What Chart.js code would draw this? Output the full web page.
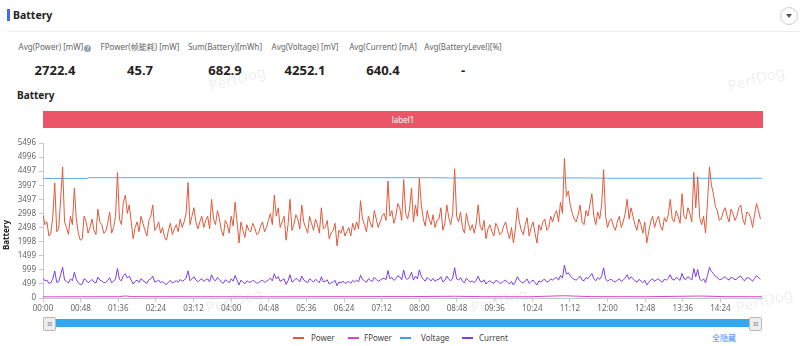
<!DOCTYPE html>
<html>
<head>
<meta charset="utf-8">
<script src="https://cdn.jsdelivr.net/npm/chart.js@4.4.1/dist/chart.umd.min.js"></script>
<style>
  html, body { margin: 0; padding: 0; background: #fff; }
  body { font-family: 'Noto Sans', 'Noto Sans CJK SC', sans-serif; color: #222; }
  #page { position: relative; width: 800px; height: 346px; overflow: hidden; }
  .abs { position: absolute; }
  .hdr-bar { left: 7px; top: 9px; width: 3px; height: 12px; background: #3d6cf2; }
  .hdr-title { left: 13px; top: 6px; font-size: 10.5px; font-weight: bold; line-height: 18px; }
  .hdr-btn { left: 780px; top: 7px; width: 16px; height: 16px; border: 1px solid #cfcfcf; border-radius: 50%; }
  .hdr-btn:after { content: ''; position: absolute; left: 5px; top: 6px; border-left: 3px solid transparent; border-right: 3px solid transparent; border-top: 4px solid #555; }
  .divider { left: 7px; top: 31px; width: 793px; height: 1px; background: #eeeeee; }
  .stat { width: 110px; text-align: center; }
  .stat .lbl { font-size: 8px; color: #666; line-height: 10px; white-space: nowrap; }
  .stat .val { font-size: 13px; font-weight: bold; color: #222; line-height: 16px; margin-top: 10px; }
  .qicon { display: inline-block; width: 7px; height: 7px; border-radius: 50%; background: #9aa0aa; color: #fff; font-size: 6px; line-height: 7px; text-align: center; vertical-align: 0px; margin-left: 1px; }
  .sub-title { left: 17px; top: 87px; font-size: 10px; font-weight: bold; line-height: 16px; }
  .label-bar { left: 43px; top: 111px; width: 720px; height: 17px; background: #ec5566; color: #fff; font-size: 8px; line-height: 17px; text-align: center; }
  .wm { color: rgba(0,0,0,0.085); font-size: 15px; transform: rotate(-15deg); white-space: nowrap; }
  #chartBox { left: 0; top: 135px; width: 800px; height: 182px; }
  .y-title { left: -12px; top: 230px; width: 36px; text-align: center; font-size: 8px; font-weight: bold; line-height: 10px; transform: rotate(-90deg); }
  .slider { left: 49px; top: 319px; width: 707px; height: 8px; background: #31a8ef; }
  .handle { top: 317px; width: 11px; height: 12px; background: #eeeeee; border: 1px solid #b8b8b8; border-radius: 2px; color: #888; font-size: 6px; line-height: 12px; text-align: center; letter-spacing: -0.5px; }
  .lg-line { top: 337px; width: 11px; height: 2px; }
  .lg-text { top: 332px; font-size: 8px; color: #444; line-height: 12px; }
  .hide-all { left: 712px; top: 332px; font-size: 8px; color: #3d8cf5; line-height: 12px; }
</style>
</head>
<body>
<div id="page">
  <div class="abs hdr-bar"></div>
  <div class="abs hdr-title">Battery</div>
  <div class="abs hdr-btn"></div>
  <div class="abs divider"></div>

  <div class="abs stat" style="left:0px;top:42px"><div class="lbl">Avg(Power) [mW]<span class="qicon">?</span></div><div class="val">2722.4</div></div>
  <div class="abs stat" style="left:85px;top:42px"><div class="lbl">FPower(帧能耗) [mW]</div><div class="val">45.7</div></div>
  <div class="abs stat" style="left:170px;top:42px"><div class="lbl">Sum(Battery)[mWh]</div><div class="val">682.9</div></div>
  <div class="abs stat" style="left:250px;top:42px"><div class="lbl">Avg(Voltage) [mV]</div><div class="val">4252.1</div></div>
  <div class="abs stat" style="left:328px;top:42px"><div class="lbl">Avg(Current) [mA]</div><div class="val">640.4</div></div>
  <div class="abs stat" style="left:408px;top:42px"><div class="lbl">Avg(BatteryLevel)[%]</div><div class="val">-</div></div>

  <div class="abs sub-title">Battery</div>
  <div class="abs label-bar">label1</div>

  <div class="abs wm" style="left:208px;top:68px">PerfDog</div>
  <div class="abs wm" style="left:727px;top:68px">PerfDog</div>
  <div class="abs wm" style="left:205px;top:290px">PerfDog</div>
  <div class="abs wm" style="left:470px;top:290px">PerfDog</div>
  <div class="abs wm" style="left:735px;top:290px">PerfDog</div>

  <div class="abs" id="chartBox"><canvas id="battery-chart"></canvas></div>
  <div class="abs y-title">Battery</div>

  <div class="abs slider"></div>
  <div class="abs handle" style="left:43px">III</div>
  <div class="abs handle" style="left:749px">III</div>

  <div class="abs lg-line" style="left:293px;background:#e05a3c"></div>
  <div class="abs lg-text" style="left:311px">Power</div>
  <div class="abs lg-line" style="left:348px;background:#d646c4"></div>
  <div class="abs lg-text" style="left:364px">FPower</div>
  <div class="abs lg-line" style="left:400px;background:#3f9df2"></div>
  <div class="abs lg-text" style="left:421px">Voltage</div>
  <div class="abs lg-line" style="left:462px;background:#7a3fe8"></div>
  <div class="abs lg-text" style="left:479px">Current</div>
  <div class="abs hide-all">全隐藏</div>
</div>

<script>
'use strict';

// sampling / axis setup
const SAMPLE_SEC = 2.5;
const X_MAX_SEC = 917;
const X_TICK_SEC = 48;
const Y_MAX = 5496.5;

const xTickLabels = ['00:00', '00:48', '01:36', '02:24', '03:12', '04:00', '04:48', '05:36', '06:24', '07:12',
  '08:00', '08:48', '09:36', '10:24', '11:12', '12:00', '12:48', '13:36', '14:24'];
const yTickLabels = [0, 499, 999, 1499, 1998, 2498, 2998, 3497, 3997, 4497, 4996, 5496];

// Power [mW], one value every 2.5 s (one row = 50 s)
const powerMw = [
  2950, 2600, 2700, 2200, 2300, 2900, 4080, 2350, 2450, 3500, 4650, 2700, 2500, 2250, 2900, 2600, 3900, 2800, 2300, 2050,
  2100, 2900, 2700, 2300, 2500, 2800, 2400, 2250, 3150, 2700, 2600, 2300, 2350, 2650, 3050, 2300, 2500, 2900, 4450, 2800,
  2600, 3400, 3650, 3000, 3300, 2700, 2100, 2500, 2700, 2350, 2900, 2650, 2400, 2200, 2750, 2900, 3300, 2400, 2500, 2700,
  2300, 2500, 2150, 2050, 2400, 2650, 2250, 2450, 2600, 2350, 2800, 2500, 2700, 3000, 4100, 2600, 2900, 3200, 2700, 2450,
  2700, 2900, 2500, 2750, 2900, 2450, 3500, 2800, 2600, 3100, 2800, 2400, 2200, 2750, 2600, 2300, 2900, 2550, 3400, 2700,
  1950, 2700, 2400, 2150, 2600, 2400, 2350, 2650, 2500, 2250, 2300, 2550, 2700, 2350, 2500, 2750, 3000, 2600, 3650, 2900,
  3200, 2500, 2700, 2900, 2050, 2600, 3500, 2400, 2600, 2950, 2800, 2450, 3300, 2700, 2500, 2300, 2900, 2650, 2400, 2800,
  2600, 2300, 3200, 2450, 2500, 2750, 2100, 2300, 2400, 2650, 1850, 2400, 2300, 2550, 2200, 2350, 2500, 2200, 2650, 2400,
  2700, 2450, 3450, 2800, 2600, 2350, 2900, 2650, 2500, 3100, 2800, 2500, 2700, 2900, 3000, 2750, 4150, 2900, 3100, 2650,
  2900, 3350, 3200, 2750, 4200, 3000, 2800, 3150, 3900, 2700, 3300, 2900, 4250, 3300, 2800, 2550, 3100, 2800, 2600, 2950,
  2500, 2750, 2800, 3200, 2400, 2650, 3300, 2850, 2600, 3000, 4580, 2900, 2700, 3050, 2500, 2300, 3000, 2650, 2400, 2600,
  2300, 2650, 3300, 2550, 2400, 2750, 2100, 2450, 2600, 2350, 2200, 2650, 2500, 2250, 2300, 2550, 2700, 2350, 2100, 2500,
  1950, 2450, 3200, 2700, 2400, 2250, 2600, 2850, 2200, 2500, 2700, 2300, 1950, 2600, 2400, 2700, 2800, 2400, 2500, 2900,
  2700, 2950, 3100, 2700, 3400, 3000, 4950, 3600, 3800, 3300, 3000, 2800, 2700, 2950, 3300, 2700, 2600, 3100, 2900, 3300,
  3700, 2900, 2600, 3050, 2800, 3300, 4550, 2900, 2500, 2750, 2800, 2550, 2400, 2700, 2900, 2500, 2700, 3000, 3500, 2800,
  3200, 2900, 2600, 2400, 2800, 2600, 2300, 2700, 1950, 2350, 2700, 2900, 2500, 2750, 2900, 2550, 2400, 2850, 2700, 2950,
  3500, 2800, 2700, 3100, 2900, 2650, 3700, 2900, 2800, 3200, 3000, 2700, 4450, 3200, 4300, 2850, 2600, 2900, 2300, 3400,
  4650, 4000, 3700, 3250, 3100, 2750, 2800, 3050, 3200, 2900, 2700, 3150, 3000, 2750, 2900, 3200, 3300, 2800, 2600, 3050,
  3000, 2850, 2500, 2950, 3350, 3100, 2800
];

// Current [mA], same sampling
const currentMa = [
  695, 610, 635, 520, 540, 680, 960, 555, 575, 825, 1090, 635, 590, 530, 680, 610, 915, 660, 540, 480,
  495, 680, 635, 540, 590, 660, 565, 530, 740, 635, 610, 540, 555, 625, 720, 540, 590, 680, 1045, 660,
  610, 800, 860, 705, 775, 635, 495, 590, 635, 555, 680, 625, 565, 520, 645, 680, 775, 565, 590, 635,
  540, 590, 505, 480, 565, 625, 530, 575, 610, 555, 660, 590, 635, 705, 965, 610, 680, 755, 635, 575,
  635, 680, 590, 645, 680, 575, 825, 660, 610, 730, 660, 565, 520, 645, 610, 540, 680, 600, 800, 635,
  460, 635, 565, 505, 610, 565, 555, 625, 590, 530, 540, 600, 635, 555, 590, 645, 705, 610, 860, 680,
  755, 590, 635, 680, 480, 610, 825, 565, 610, 695, 660, 575, 775, 635, 590, 540, 680, 625, 565, 660,
  610, 540, 755, 575, 590, 645, 495, 540, 565, 625, 435, 565, 540, 600, 520, 555, 590, 520, 625, 565,
  635, 575, 810, 660, 610, 555, 680, 625, 590, 730, 660, 590, 635, 680, 705, 645, 975, 680, 730, 625,
  680, 790, 755, 645, 990, 705, 660, 740, 915, 635, 775, 680, 1000, 775, 660, 600, 730, 660, 610, 695,
  590, 645, 660, 755, 565, 625, 775, 670, 610, 705, 1075, 680, 635, 720, 590, 540, 705, 625, 565, 610,
  540, 625, 775, 600, 565, 645, 495, 575, 610, 555, 520, 625, 590, 530, 540, 600, 635, 555, 495, 590,
  460, 575, 755, 635, 565, 530, 610, 670, 520, 590, 635, 540, 460, 610, 565, 635, 660, 565, 590, 680,
  635, 695, 730, 635, 800, 705, 1165, 845, 895, 775, 705, 660, 635, 695, 775, 635, 610, 730, 680, 775,
  870, 680, 610, 720, 660, 775, 1070, 680, 590, 645, 660, 600, 565, 635, 680, 590, 635, 705, 825, 660,
  755, 680, 610, 565, 660, 610, 540, 635, 460, 555, 635, 680, 590, 645, 680, 600, 565, 670, 635, 695,
  825, 660, 635, 730, 680, 625, 870, 680, 660, 755, 705, 635, 1045, 755, 1010, 670, 610, 680, 540, 800,
  1090, 940, 870, 765, 730, 645, 660, 720, 755, 680, 635, 740, 705, 645, 680, 755, 775, 660, 610, 720,
  705, 670, 590, 695, 790, 730, 660
];

// Voltage [mV] (nearly flat, few steps)
const voltageSec = [0, 56, 58, 500, 520, 700, 720, 917];
const voltageMv = [4240, 4240, 4266, 4266, 4256, 4256, 4246, 4246];

// FPower [mW]
const fpowerSec = [0, 48, 96, 105, 114, 192, 288, 384, 470, 526, 560, 620, 664, 700, 768, 839, 870, 917];
const fpowerMw = [40, 44, 46, 72, 48, 45, 43, 47, 50, 62, 46, 44, 80, 48, 45, 70, 47, 44];

const THEME = {
  power:   '#e05a3c',
  fpower:  '#d646c4',
  voltage: '#5aaaf4',
  current: '#7a3fe8',
  axis:    '#c3c8d4',
  text:    '#666',
};

Chart.defaults.font.family = "'Noto Sans', 'Noto Sans CJK SC', sans-serif";
Chart.defaults.font.size = 8;
Chart.defaults.color = THEME.text;

function toPoints(values, xs) {
  return values.map((v, i) => ({ x: xs ? xs[i] : i * SAMPLE_SEC, y: v }));
}

function lineSet(label, data, color, order) {
  return {
    label,
    data,
    borderColor: color,
    backgroundColor: color,
    borderWidth: 1,
    pointRadius: 0,
    tension: 0,
    fill: false,
    order,
  };
}

function renderBatteryChart(canvasId) {
  const canvas = document.getElementById(canvasId);
  if (!canvas || typeof Chart === 'undefined') return;
  return new Chart(canvas.getContext('2d'), {
    type: 'line',
    data: {
      datasets: [
        lineSet('Power', toPoints(powerMw), THEME.power, 2),
        lineSet('FPower', toPoints(fpowerMw, fpowerSec), THEME.fpower, 3),
        lineSet('Voltage', toPoints(voltageMv, voltageSec), THEME.voltage, 4),
        lineSet('Current', toPoints(currentMa), THEME.current, 1),
      ],
    },
    options: {
      responsive: true,
      maintainAspectRatio: false,
      animation: false,
      layout: { padding: { top: 8, right: 38, left: 0, bottom: 0 } },
      plugins: { legend: { display: false }, tooltip: { enabled: false } },
      scales: {
        x: {
          type: 'linear',
          min: 0,
          max: X_MAX_SEC,
          afterBuildTicks: axis => { axis.ticks = xTickLabels.map((_, i) => ({ value: i * X_TICK_SEC })); },
          afterFit: axis => { axis.height = 19; },
          ticks: { autoSkip: false, maxRotation: 0, padding: 2, callback: (v, i) => xTickLabels[i] },
          grid: { drawOnChartArea: false, tickLength: 4, color: THEME.axis },
          border: { color: THEME.axis },
        },
        y: {
          min: 0,
          max: Y_MAX,
          afterBuildTicks: axis => {
            axis.ticks = yTickLabels.map((_, i) => ({ value: i * Y_MAX / (yTickLabels.length - 1) }));
          },
          afterFit: axis => { axis.width = 43; },
          ticks: { padding: 3, callback: (v, i) => yTickLabels[i] },
          grid: { drawOnChartArea: false, tickLength: 4, color: THEME.axis },
          border: { color: THEME.axis },
        },
      },
    },
  });
}

renderBatteryChart('battery-chart');
</script>
</body>
</html>
